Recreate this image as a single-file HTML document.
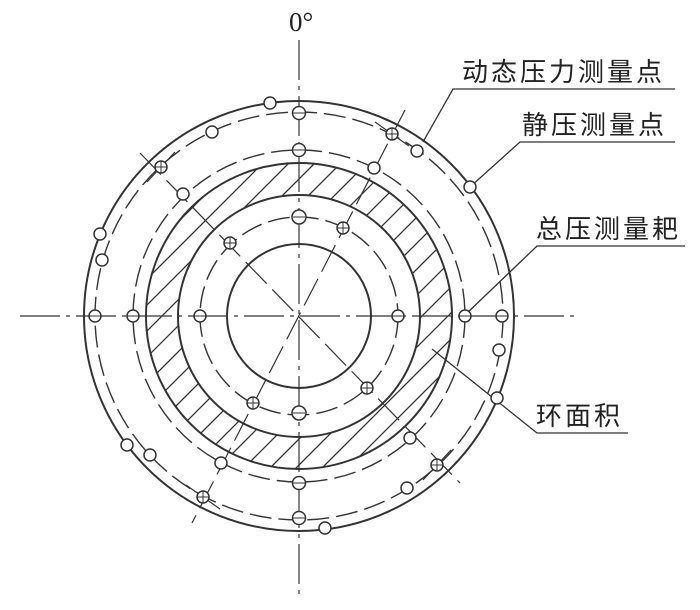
<!DOCTYPE html>
<html><head><meta charset="utf-8"><style>
html,body{margin:0;padding:0;background:#fff;}
svg{display:block;}
.t{font-family:"Liberation Sans","Noto Sans CJK SC",sans-serif;font-size:26px;fill:#222;letter-spacing:3px;}
</style></head><body>
<svg width="700" height="610" viewBox="0 0 700 610" xmlns="http://www.w3.org/2000/svg">
<defs>
<clipPath id="ann"><path d="M299,316 m-153,0 a153,153 0 1,0 306,0 a153,153 0 1,0 -306,0 Z M299,316 m-121,0 a121,121 0 1,1 242,0 a121,121 0 1,1 -242,0 Z" clip-rule="evenodd"/></clipPath>
</defs>
<g fill="none" stroke="#333" stroke-width="1.6">
<g clip-path="url(#ann)" stroke-width="1.3">
<path d="M-152,500 L348,0 M-126,500 L374,0 M-100,500 L400,0 M-74,500 L426,0 M-48,500 L452,0 M-22,500 L478,0 M4,500 L504,0 M30,500 L530,0 M56,500 L556,0 M82,500 L582,0 M108,500 L608,0 M134,500 L634,0 M160,500 L660,0 M186,500 L686,0 M212,500 L712,0 M238,500 L738,0 M264,500 L764,0 M290,500 L790,0 M316,500 L816,0 M342,500 L842,0 M368,500 L868,0 M394,500 L894,0 M420,500 L920,0 M446,500 L946,0 M472,500 L972,0"/>
</g>
<circle cx="299" cy="316" r="215" stroke-width="2"/>
<circle cx="299" cy="316" r="204" stroke-dasharray="22 7" stroke-width="1.4"/>
<circle cx="299" cy="316" r="166" stroke-dasharray="22 7" stroke-width="1.4"/>
<circle cx="299" cy="316" r="153" stroke-width="2"/>
<circle cx="299" cy="316" r="121" stroke-width="2"/>
<circle cx="299" cy="316" r="99" stroke-dasharray="22 7" stroke-width="1.4"/>
<circle cx="299" cy="316" r="72" stroke-width="2"/>
<g stroke-width="1.2">
<path d="M20,316 H575" stroke-dasharray="40 6 4 6"/>
<path d="M299,40 V600" stroke-dasharray="40 6 4 6"/>
<path d="M140,153 L460,483" stroke-dasharray="30 8"/>
<path d="M405,110 L192,523" stroke-dasharray="30 8"/>
<path d="M147,182 L175,152 M423,480 L451,450 M375,122 L409,146 M186,485 L220,509"/>
</g>
<g stroke-width="1.3">
<path d="M423,142 L453,89 H675"/>
<path d="M470,187 L520,142 H675"/>
<path d="M465,315 L537,246 H685"/>
<path d="M432,349 L537,433 H628"/>
</g>
<g fill="#fff" stroke-width="1.5">
<circle cx="270" cy="103" r="6"/><circle cx="299" cy="113" r="6.5"/><circle cx="417" cy="151" r="6"/><circle cx="470" cy="187" r="6"/>
<circle cx="100" cy="234" r="6"/><circle cx="102" cy="260" r="6"/><circle cx="95" cy="316" r="6"/><circle cx="502" cy="316" r="6"/>
<circle cx="499" cy="350" r="6"/><circle cx="497" cy="398" r="6"/><circle cx="127" cy="445" r="6"/><circle cx="407" cy="488" r="6"/>
<circle cx="299" cy="518" r="6.5"/><circle cx="325" cy="528" r="6"/>
<circle cx="212" cy="132" r="6"/><circle cx="161" cy="167" r="6"/><circle cx="299" cy="150" r="6.5"/><circle cx="392" cy="134" r="6"/>
<circle cx="374" cy="168" r="6"/><circle cx="183" cy="194" r="6"/><circle cx="133" cy="316" r="6"/><circle cx="465" cy="316" r="6"/>
<circle cx="150" cy="455" r="6"/><circle cx="221" cy="463" r="6"/><circle cx="203" cy="497" r="6"/><circle cx="437" cy="465" r="6"/>
<circle cx="410" cy="438" r="6"/><circle cx="299" cy="483" r="6.5"/>
<circle cx="299" cy="217" r="7"/><circle cx="343" cy="228" r="6"/><circle cx="230" cy="243" r="6"/><circle cx="200" cy="316" r="6"/>
<circle cx="398" cy="316" r="6"/><circle cx="367" cy="388" r="6"/><circle cx="253" cy="403" r="6"/><circle cx="299" cy="413" r="7"/>
</g>
<g stroke-width="1">
<path d="M155,167 h12 M161,161 v12 M386,134 h12 M392,128 v12 M431,465 h12 M437,459 v12 M197,497 h12 M203,491 v12 M337,228 h12 M343,222 v12 M224,243 h12 M230,237 v12 M361,388 h12 M367,382 v12 M247,403 h12 M253,397 v12"/>
<path d="M293,113 h12 M293,150 h12 M293,483 h12 M293,518 h12 M293,413 h12 M293,217 h12 M89,316 h12 M496,316 h12 M127,316 h12 M459,316 h12 M194,316 h12 M392,316 h12"/>
</g>
</g>
<text x="289" y="31" font-family="Liberation Serif,serif" font-size="27" fill="#222">0°</text>
<text class="t" x="462" y="81">动态压力测量点</text>
<text class="t" x="522" y="134">静压测量点</text>
<text class="t" x="536" y="238">总压测量耙</text>
<text class="t" x="536" y="425">环面积</text>
</svg>
</body></html>
